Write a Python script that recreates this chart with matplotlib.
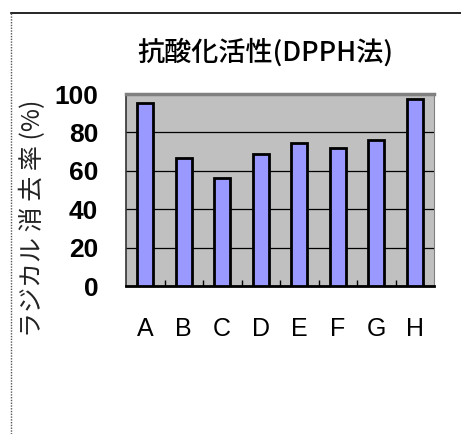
import matplotlib
matplotlib.use("Agg")
import matplotlib.pyplot as plt
from matplotlib.lines import Line2D
import numpy as np

plt.rcParams['font.family'] = ['Noto Sans CJK JP', 'DejaVu Sans']

categories = ["A", "B", "C", "D", "E", "F", "G", "H"]
values = [95.2, 66.5, 56.0, 68.6, 74.6, 71.8, 75.8, 97.5]
y_ticks = [0, 20, 40, 60, 80, 100]
title = "抗酸化活性(DPPH法)"
ylabel = "ラジカル 消 去 率 (%)"

W, H = 461, 434
fig = plt.figure(figsize=(W / 100, H / 100), dpi=100)
fig.patch.set_facecolor("white")

# outer chart frame: solid top edge, dotted left edge
fig.add_artist(Line2D([11 / W, 1.0], [1 - 13 / H, 1 - 13 / H], color="black", lw=1.2,
                      transform=fig.transFigure))
fig.add_artist(Line2D([11 / W, 11 / W], [0.0, 1 - 13 / H], color="#555555", lw=1.0,
                      ls=(0, (1, 1)), transform=fig.transFigure))

ax = fig.add_axes([126 / W, 1 - 286 / H, 308 / W, 192 / H])
ax.set_facecolor("#c0c0c0")

x = np.arange(len(categories))
ax.bar(x, values, width=0.41, color="#9999ff", edgecolor="black", linewidth=2, zorder=3)

ax.set_xlim(-0.5, len(categories) - 0.5)
ax.set_ylim(0, 100)
ax.set_yticks(y_ticks)
ax.set_yticklabels([str(t) for t in y_ticks], fontsize=19, fontweight="bold",
                   family=["Liberation Sans"])
ax.yaxis.grid(True, color="black", lw=0.9, zorder=1)
ax.set_axisbelow(True)

ax.set_xticks(x)
ax.set_xticklabels(categories, fontsize=18, family=["Liberation Sans Narrow", "Liberation Sans"])
ax.set_xticks(np.arange(0.5, len(categories) - 0.5, 1), minor=True)
ax.tick_params(axis="x", which="major", length=0, pad=22)
ax.tick_params(axis="x", which="minor", direction="in", length=4, width=1, color="black")
ax.tick_params(axis="y", length=0, pad=20)

ax.spines["top"].set_color("#808080")
ax.spines["top"].set_linewidth(2.5)
ax.spines["right"].set_color("#808080")
ax.spines["right"].set_linestyle((0, (1, 1)))
ax.spines["left"].set_color("#333333")
ax.spines["left"].set_linewidth(1.2)
ax.spines["bottom"].set_color("black")
ax.spines["bottom"].set_linewidth(2)

fig.text(265 / W, 1 - 52 / H, title, ha="center", va="center", fontsize=19.5,
         fontweight="medium")
fig.text(33 / W, 1 - 218 / H, ylabel, ha="center", va="center", rotation=90,
         fontsize=18, color="#222222")

fig.savefig("out.png", dpi=100)
